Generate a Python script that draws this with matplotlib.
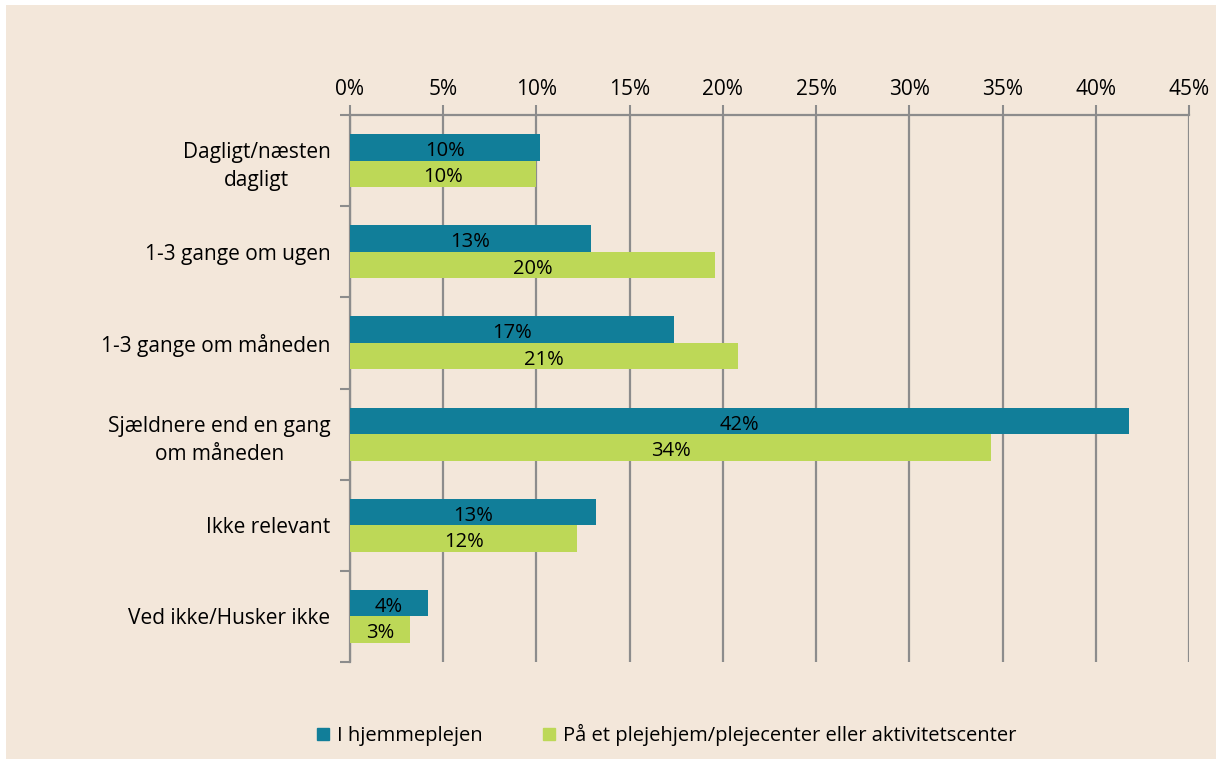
import matplotlib.pyplot as plt
import numpy as np
from matplotlib.patches import Rectangle

plt.rcParams['font.family'] = ['Open Sans', 'DejaVu Sans']

# --- data ---
categories = ["Dagligt/næsten\ndagligt", "1-3 gange om ugen", "1-3 gange om måneden",
              "Sjældnere end en gang\nom måneden", "Ikke relevant", "Ved ikke/Husker ikke"]
hjemmepleje = [10.2, 12.9, 17.4, 41.8, 13.2, 4.2]
plejehjem = [10.0, 19.6, 20.8, 34.4, 12.2, 3.2]
series_names = ["I hjemmeplejen", "På et plejehjem/plejecenter eller aktivitetscenter"]

BEIGE = "#F3E7DA"
BLUE = "#117E99"
GREEN = "#BDD857"
GRID = "#8C8C8C"

fig = plt.figure(figsize=(12.24, 7.65), dpi=100, facecolor="white")
fig.patches.append(Rectangle((6 / 1224, 6 / 765), 1210 / 1224, 754 / 765,
                             transform=fig.transFigure, facecolor=BEIGE,
                             edgecolor="none", zorder=-10))

ax = fig.add_axes([350 / 1224, 1 - 662 / 765, 839 / 1224, 547 / 765])
ax.set_facecolor("none")

y = np.arange(len(categories))
h = 0.29
b1 = ax.barh(y - h / 2, hjemmepleje, height=h, color=BLUE, zorder=3)
b2 = ax.barh(y + h / 2, plejehjem, height=h, color=GREEN, zorder=3)

for bars, vals in ((b1, hjemmepleje), (b2, plejehjem)):
    for bar, v in zip(bars, vals):
        ax.text(v / 2, bar.get_y() + bar.get_height() / 2 + 0.04, f"{round(v):.0f}%",
                ha="center", va="center", fontsize=14.5, color="black", zorder=4)

ax.set_xlim(0, 45)
ax.set_ylim(len(categories) - 0.5, -0.5)
ax.set_xticks(np.arange(0, 46, 5))
ax.set_xticklabels([f"{t}%" for t in range(0, 46, 5)])
ax.xaxis.tick_top()
ax.tick_params(axis="x", direction="out", length=7, width=1.5, color=GRID,
               labelsize=15, pad=4)
ax.grid(axis="x", color=GRID, linewidth=1.6, zorder=1)

ax.set_yticks(y)
ax.set_yticklabels(categories, fontsize=15, multialignment="center", linespacing=1.45)
ax.set_yticks(np.arange(-0.5, len(categories)), minor=True)
ax.tick_params(axis="y", which="major", length=0, pad=14)
ax.tick_params(axis="y", which="minor", direction="out", length=7, width=1.5, color=GRID)

for s in ("right", "bottom"):
    ax.spines[s].set_visible(False)
for s in ("top", "left"):
    ax.spines[s].set_color(GRID)
    ax.spines[s].set_linewidth(1.6)

handles = [Rectangle((0, 0), 1, 1, color=BLUE), Rectangle((0, 0), 1, 1, color=GREEN)]
fig.legend(handles, series_names, loc="center", bbox_to_anchor=(667 / 1224, 1 - 735 / 765),
           ncol=2, frameon=False, fontsize=14.5, handlelength=0.6, handleheight=0.6,
           columnspacing=3, handletextpad=0.4)

fig.savefig("out.png", dpi=100, facecolor="white")
